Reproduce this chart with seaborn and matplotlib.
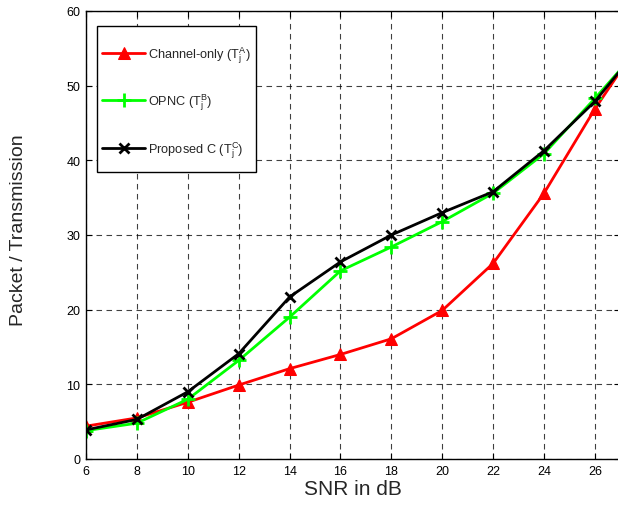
import numpy as np
import pandas as pd
import matplotlib
matplotlib.use("Agg")
import matplotlib.pyplot as plt
from matplotlib.patches import Rectangle
import seaborn as sns

snr = [6, 8, 10, 12, 14, 16, 18, 20, 22, 24, 26, 28]
channel_only = [4.4, 5.5, 7.6, 9.9, 12.1, 14.0, 16.1, 19.9, 26.2, 35.6, 46.9, 57.0]
opnc = [3.8, 4.8, 8.0, 13.2, 19.0, 25.2, 28.4, 31.8, 35.6, 40.9, 48.3, 56.0]
proposed = [3.9, 5.3, 9.0, 14.1, 21.7, 26.4, 30.0, 33.0, 35.8, 41.3, 47.9, 56.2]

labels = [r"Channel-only (T$_{\rm j}^{\rm A}$)",
          r"OPNC (T$_{\rm j}^{\rm B}$)",
          r"Proposed C (T$_{\rm j}^{\rm C}$)"]

sns.set_theme(style="white")
plt.rcParams["font.family"] = ["Liberation Sans", "DejaVu Sans"]
plt.rcParams["mathtext.fontset"] = "custom"
plt.rcParams["mathtext.rm"] = "Liberation Sans"

df = pd.DataFrame({"snr": snr, "ch": channel_only, "op": opnc, "pr": proposed})

fig = plt.figure(figsize=(6.18, 5.06), dpi=100)
ax = fig.add_axes([86 / 618, 1 - 460 / 506, 534.4 / 618, 448 / 506])

sns.lineplot(data=df, x="snr", y="ch", ax=ax, color="#ff0000", lw=2,
             marker="^", markersize=8, markeredgecolor="#ff0000", label=labels[0])
sns.lineplot(data=df, x="snr", y="op", ax=ax, color="#00ff00", lw=2,
             marker="+", markersize=10, markeredgewidth=2, markeredgecolor="#00ff00", label=labels[1])
sns.lineplot(data=df, x="snr", y="pr", ax=ax, color="black", lw=2,
             marker="x", markersize=7, markeredgewidth=2, markeredgecolor="black", label=labels[2])

ax.set_xlim(6, 27)
ax.set_ylim(0, 60)
ax.set_xticks(range(6, 27, 2))
ax.set_yticks(range(0, 61, 10))
ax.grid(True, color="black", linestyle=(0, (5, 4)), linewidth=0.8, alpha=0.75)
ax.tick_params(direction="in", length=4, width=0.8, labelsize=9, colors="black",
               top=True, right=True, bottom=True, left=True, pad=4)
for sp in ax.spines.values():
    sp.set_color("black")
    sp.set_linewidth(1)

ax.set_xlabel("SNR in dB", fontsize=15, labelpad=2)
ax.set_ylabel("Packet / Transmission", fontsize=14)
ax.yaxis.set_label_coords(-0.11, 0.513)

# legend box drawn separately (MATLAB-style padding)
box_x0, box_x1, box_y0, box_y1 = 0.0206, 0.318, 0.641, 0.967
ax.add_patch(Rectangle((box_x0, box_y0), box_x1 - box_x0, box_y1 - box_y0,
                       transform=ax.transAxes, facecolor="white", edgecolor="black",
                       linewidth=1, zorder=4))
leg = ax.legend(loc="center", bbox_to_anchor=((box_x0 + box_x1) / 2, (box_y0 + box_y1) / 2 - 0.007),
                fontsize=9.2, frameon=False, labelspacing=2.12, handlelength=3.3,
                handletextpad=0.25, borderpad=0, borderaxespad=0)
leg.set_zorder(5)

fig.savefig("out.png", dpi=100)
